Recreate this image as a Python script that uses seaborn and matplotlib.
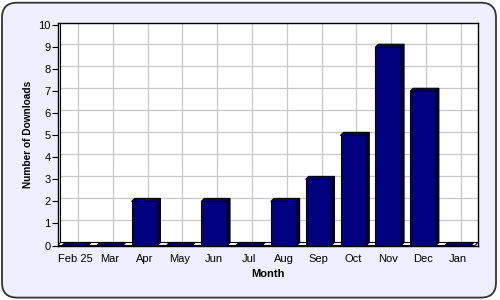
import matplotlib
matplotlib.use("Agg")
import matplotlib.pyplot as plt
from matplotlib.patches import Polygon, FancyBboxPatch
import seaborn as sns

months = ["Feb 25", "Mar", "Apr", "May", "Jun", "Jul", "Aug", "Sep", "Oct", "Nov", "Dec", "Jan"]
downloads = [0, 0, 2, 0, 2, 0, 2, 3, 5, 9, 7, 0]
y_ticks = list(range(0, 11))

sns.set_theme(style="white")
plt.rcParams['font.family'] = ['Liberation Sans', 'DejaVu Sans']

fig = plt.figure(figsize=(5, 3), dpi=100)
fig.patch.set_facecolor("white")
bg = FancyBboxPatch((0.004, 0.008), 0.988, 0.983, boxstyle="round,pad=0,rounding_size=0.03",
                    transform=fig.transFigure, facecolor="#EEEEFF", edgecolor="#333333",
                    linewidth=1.3, zorder=-10, mutation_aspect=5/3)
fig.patches.append(bg)

ax = fig.add_axes([57.5/500, 1 - 245.5/300, (478 - 57.5)/500, (245.5 - 23)/300])
ax.set_facecolor("white")

sns.barplot(x=months, y=downloads, color="#000080", saturation=1, width=0.74,
            edgecolor="black", linewidth=0.8, ax=ax, zorder=3)

xmin, xmax = -0.5, 11.58
ax.set_xlim(xmin, xmax)
ax.set_ylim(0, 10.1)

# depth in data units (~3 px)
dx = 3 / 34.9
dy = 3 / 22.0

# grid on back wall, offset by depth
for yv in y_ticks[1:]:
    ax.plot([xmin + dx, xmax], [yv + dy, yv + dy], color="#C8C8C8", lw=0.9, zorder=1)
for i in range(len(months)):
    ax.plot([i + dx, i + dx], [dy, 10.1], color="#C8C8C8", lw=0.9, zorder=1)
ax.plot([xmin + dx, xmin + dx], [dy, 10.1], color="black", lw=0.8, zorder=2)

# floor
floor = Polygon([(xmin, 0), (xmin + dx, dy), (xmax, dy), (xmax - dx, 0)],
                closed=True, facecolor="white", edgecolor="black", lw=0.8, zorder=2)
ax.add_patch(floor)

# 3D faces for bars
for p in list(ax.patches):
    if p is floor:
        continue
    x0 = p.get_x()
    w = p.get_width()
    h = p.get_height()
    side = Polygon([(x0 + w, 0), (x0 + w + dx, dy), (x0 + w + dx, h + dy), (x0 + w, h)],
                   closed=True, facecolor="#000040", edgecolor="black", lw=0.8, zorder=3)
    top = Polygon([(x0, h), (x0 + dx, h + dy), (x0 + w + dx, h + dy), (x0 + w, h)],
                  closed=True, facecolor="#000070", edgecolor="black", lw=0.8, zorder=3)
    ax.add_patch(side)
    ax.add_patch(top)

for s in ["top", "right", "bottom", "left"]:
    ax.spines[s].set_visible(True)
    ax.spines[s].set_color("black")
    ax.spines[s].set_linewidth(1.0)

ax.set_yticks(y_ticks)
ax.set_yticklabels([str(v) for v in y_ticks])
ax.tick_params(axis="y", direction="out", length=4, width=0.8, color="black",
               labelsize=8, pad=1, left=True)
ax.tick_params(axis="x", length=0, labelsize=8, pad=6)
for t in ax.get_xticklabels() + ax.get_yticklabels():
    t.set_color("black")

ax.set_xlabel("Month", fontsize=8, fontweight="bold", labelpad=4, color="black")
ax.set_ylabel("Number of Downloads", fontsize=7.3, fontweight="bold", labelpad=4, color="black")

fig.savefig("out.png", dpi=100, facecolor=fig.get_facecolor())
